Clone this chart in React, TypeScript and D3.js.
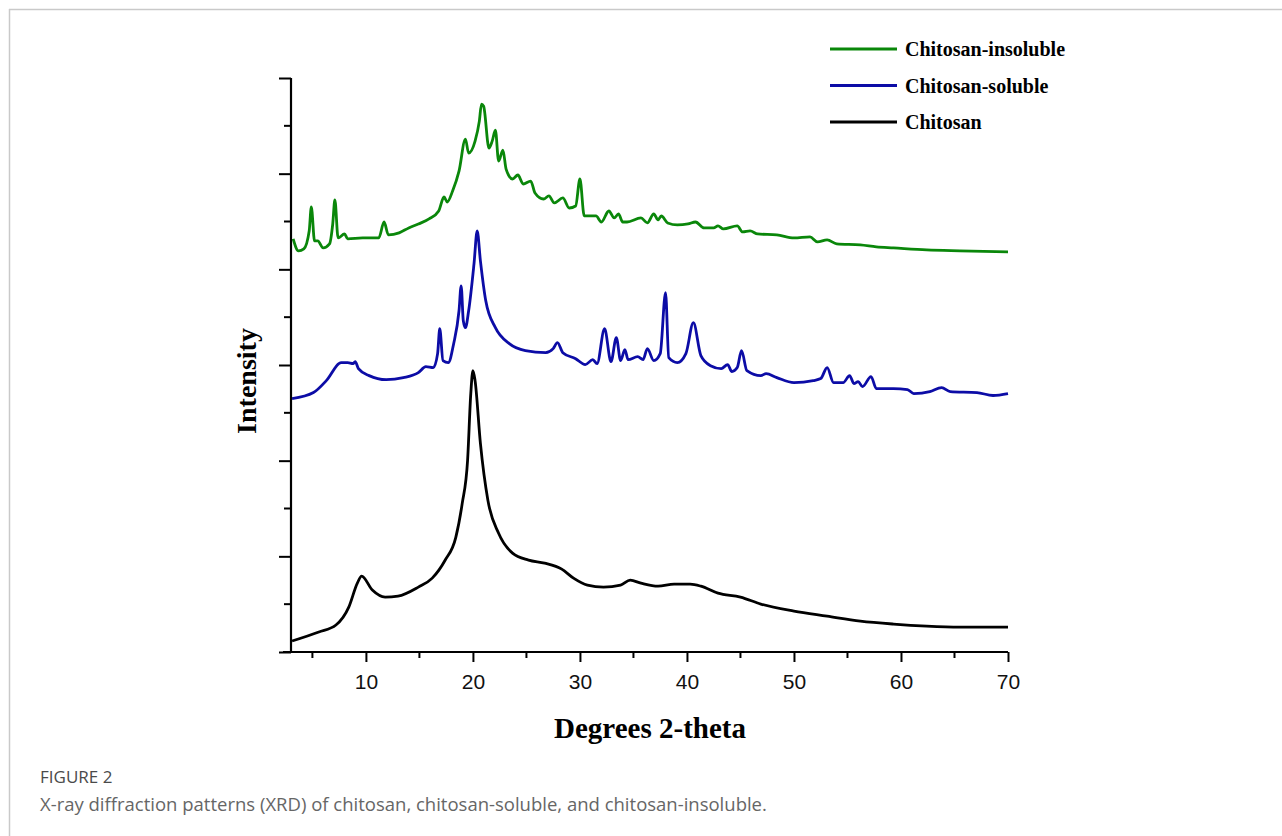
import React, { useRef, useEffect } from "react";
import * as d3 from "d3";

// XRD traces: [2-theta, intensity (a.u.)]
const chitosan: [number, number][] = [
  [3.1, 115], [5.6, 209], [7.2, 282], [8.4, 469], [9.2, 720], [9.6, 793], [10.6, 647],
  [11.8, 574], [13.0, 584], [14.9, 678], [16.2, 772], [17.4, 959], [18.4, 1199],
  [19.0, 1554], [19.5, 2002], [19.8, 2701], [20.0, 2941], [20.2, 2837], [20.7, 2180],
  [21.4, 1585], [22.4, 1241], [23.7, 1033], [25.2, 960], [26.7, 928], [28.3, 866],
  [29.4, 772], [30.7, 699], [32.2, 678], [33.8, 699], [34.7, 751], [35.7, 720],
  [37.3, 688], [38.8, 709], [40.3, 709], [41.3, 688], [42.9, 615], [45.0, 574],
  [46.9, 501], [50.0, 428], [53.1, 375], [56.2, 323], [59.3, 292], [62.4, 271],
  [65.5, 261], [70.0, 261],
];

const chitosanSoluble: [number, number][] = [
  [3.1, 2649], [5.1, 2712], [6.3, 2837], [7.7, 3025], [8.3, 3025], [8.8, 3014], [9.0, 3035],
  [9.3, 2962], [10.3, 2889], [11.9, 2847], [13.5, 2868], [14.9, 2920], [15.6, 2983],
  [16.3, 2973], [16.7, 3119], [16.9, 3379], [17.2, 3046], [17.7, 3025], [18.2, 3223],
  [18.7, 3567], [18.9, 3828], [19.1, 3463], [19.3, 3390], [19.6, 3567], [20.1, 4057],
  [20.4, 4401], [20.7, 4089], [21.2, 3671], [22.1, 3390], [23.4, 3223], [24.9, 3150],
  [26.8, 3129], [27.5, 3171], [27.9, 3233], [28.4, 3129], [29.6, 3066], [30.5, 3004],
  [31.2, 3056], [31.6, 3014], [32.3, 3379], [32.9, 3035], [33.4, 3285], [33.8, 3046],
  [34.2, 3160], [34.5, 3056], [35.4, 3087], [35.9, 3056], [36.3, 3171], [36.9, 3046],
  [37.5, 3119], [38.0, 3755], [38.3, 3077], [39.1, 3025], [39.9, 3119], [40.6, 3442],
  [41.3, 3098], [42.2, 2993], [43.2, 2962], [43.8, 3004], [44.2, 2931], [44.7, 2973],
  [45.1, 3150], [45.6, 2941], [46.9, 2889], [47.4, 2910], [48.4, 2868], [50.0, 2816],
  [51.8, 2837], [52.5, 2858], [53.1, 2973], [53.7, 2816], [54.6, 2816], [55.2, 2889],
  [55.6, 2806], [56.0, 2827], [56.4, 2774], [57.2, 2879], [57.7, 2754], [59.3, 2754],
  [60.6, 2743], [61.2, 2701], [62.7, 2722], [63.8, 2764], [64.6, 2722], [67.1, 2712],
  [68.6, 2681], [70.0, 2701],
];

const chitosanInsoluble: [number, number][] = [
  [3.2, 4318], [3.7, 4193], [4.2, 4214], [4.7, 4401], [4.9, 4652], [5.2, 4297], [5.5, 4297],
  [6.0, 4224], [6.6, 4266], [6.9, 4474], [7.1, 4725], [7.4, 4328], [8.0, 4370], [8.3, 4318],
  [9.7, 4328], [11.2, 4328], [11.7, 4495], [12.1, 4360], [13.1, 4381], [14.0, 4433],
  [14.9, 4474], [15.9, 4527], [16.8, 4610], [17.3, 4756], [17.6, 4704], [18.1, 4819],
  [18.7, 5027], [19.3, 5361], [19.6, 5215], [20.2, 5340], [20.6, 5549], [20.8, 5726],
  [21.0, 5705], [21.5, 5267], [21.8, 5340], [22.1, 5455], [22.4, 5132], [22.8, 5246],
  [23.1, 5048], [23.7, 4944], [24.2, 4986], [24.7, 4892], [25.4, 4923], [25.8, 4798],
  [26.6, 4735], [27.1, 4767], [27.6, 4694], [28.4, 4746], [29.0, 4641], [29.6, 4662],
  [30.0, 4944], [30.4, 4558], [31.5, 4558], [32.0, 4495], [32.7, 4610], [33.2, 4537],
  [33.6, 4579], [34.0, 4495], [34.4, 4495], [35.7, 4537], [36.3, 4485], [36.9, 4579],
  [37.3, 4516], [37.6, 4558], [38.2, 4485], [39.1, 4464], [40.1, 4474], [40.8, 4495],
  [41.6, 4433], [42.5, 4433], [42.9, 4454], [43.4, 4422], [44.7, 4454], [45.2, 4391],
  [45.9, 4401], [46.6, 4370], [48.4, 4360], [50.0, 4328], [51.5, 4339], [52.2, 4287],
  [53.1, 4308], [54.0, 4266], [56.2, 4256], [57.7, 4235], [59.3, 4224], [62.4, 4203],
  [65.5, 4193], [70.0, 4182],
];

const seriesNames = ["Chitosan-insoluble", "Chitosan-soluble", "Chitosan"];
const seriesColors = ["#0a870a", "#0c0ca6", "#000000"];
const xTickValues = [10, 20, 30, 40, 50, 60, 70];
const xMinorTicks = [5, 15, 25, 35, 45, 55, 65];
const yMajorTicks = [0, 1000, 2000, 3000, 4000, 5000, 6000];
const yMinorTicks = [500, 1500, 2500, 3500, 4500, 5500];

export default function App() {
  const svgRef = useRef<SVGSVGElement>(null);

  useEffect(() => {
    const svg = d3.select(svgRef.current);
    svg.selectAll("*").remove();

    const left = 291, right = 1008, top = 78, bottom = 652;
    const x = d3.scaleLinear().domain([3, 70]).range([left, right]);
    const y = d3.scaleLinear().domain([0, 6000]).range([bottom, top]);

    // page frame
    svg.append("line").attr("x1", 9).attr("x2", 1282).attr("y1", 9.5).attr("y2", 9.5)
      .attr("stroke", "#c9c9c9").attr("stroke-width", 1.5);
    svg.append("line").attr("x1", 9.5).attr("x2", 9.5).attr("y1", 9).attr("y2", 836)
      .attr("stroke", "#c9c9c9").attr("stroke-width", 1.5);

    const line = d3.line<[number, number]>()
      .x(d => x(d[0]))
      .y(d => y(d[1]))
      .curve(d3.curveMonotoneX);

    const data = [chitosanInsoluble, chitosanSoluble, chitosan];
    data.forEach((s, i) => {
      svg.append("path").datum(s)
        .attr("d", line)
        .attr("fill", "none")
        .attr("stroke", seriesColors[i])
        .attr("stroke-width", 2.8)
        .attr("stroke-linejoin", "round");
    });

    // x axis
    const xg = svg.append("g").attr("transform", `translate(0,${bottom})`);
    xg.call(d3.axisBottom(x).tickValues(xTickValues).tickSize(10).tickSizeOuter(0).tickPadding(12));
    xg.selectAll(".tick line").attr("stroke-width", 2);
    xg.selectAll(".tick text")
      .attr("font-family", "Liberation Sans, Arial, sans-serif")
      .attr("font-size", 21).attr("fill", "#111");
    xg.selectAll(".minor").data(xMinorTicks).join("line")
      .attr("x1", d => x(d)).attr("x2", d => x(d)).attr("y1", 0).attr("y2", 6)
      .attr("stroke", "#000").attr("stroke-width", 2);
    xg.select(".domain").attr("stroke-width", 2.2).attr("d", `M${left - 8},0H${right}`);

    // y axis
    const yg = svg.append("g").attr("transform", `translate(${left},0)`);
    yg.call(d3.axisLeft(y).tickValues(yMajorTicks).tickSize(12).tickSizeOuter(0).tickFormat(() => ""));
    yg.selectAll(".tick line").attr("stroke-width", 2);
    yg.selectAll(".minor").data(yMinorTicks).join("line")
      .attr("x1", 0).attr("x2", -7).attr("y1", d => y(d)).attr("y2", d => y(d))
      .attr("stroke", "#000").attr("stroke-width", 2);
    yg.select(".domain").attr("stroke-width", 2.2).attr("d", `M0,${top}V${bottom}`);

    // axis titles
    svg.append("text").attr("x", 650).attr("y", 738).attr("text-anchor", "middle")
      .attr("font-family", "Liberation Serif, Times New Roman, serif")
      .attr("font-weight", "bold").attr("font-size", 29).text("Degrees 2-theta");
    svg.append("text").attr("transform", "translate(256,381) rotate(-90)")
      .attr("text-anchor", "middle")
      .attr("font-family", "Liberation Serif, Times New Roman, serif")
      .attr("font-weight", "bold").attr("font-size", 28).text("Intensity");

    // legend
    const lg = svg.append("g");
    seriesNames.forEach((name, i) => {
      const ly = 49 + i * 36.5;
      lg.append("line").attr("x1", 830).attr("x2", 897).attr("y1", ly).attr("y2", ly)
        .attr("stroke", seriesColors[i]).attr("stroke-width", 3);
      lg.append("text").attr("x", 905).attr("y", ly + 7)
        .attr("font-family", "Liberation Serif, Times New Roman, serif")
        .attr("font-weight", "bold").attr("font-size", 20).text(name);
    });

    // caption
    svg.append("text").attr("x", 40).attr("y", 783)
      .attr("font-family", "Open Sans, Noto Sans, sans-serif")
      .attr("font-size", 17).attr("font-weight", 500).attr("fill", "#4a4a4a").text("FIGURE 2");
    svg.append("text").attr("x", 40).attr("y", 811)
      .attr("font-family", "Open Sans, Noto Sans, sans-serif")
      .attr("font-size", 18.5).attr("fill", "#666")
      .text("X-ray diffraction patterns (XRD) of chitosan, chitosan-soluble, and chitosan-insoluble.");
  }, []);

  return (
    <svg ref={svgRef} width={1282} height={836}
      style={{ position: "absolute", left: 0, top: 0, background: "#fff" }} />
  );
}
